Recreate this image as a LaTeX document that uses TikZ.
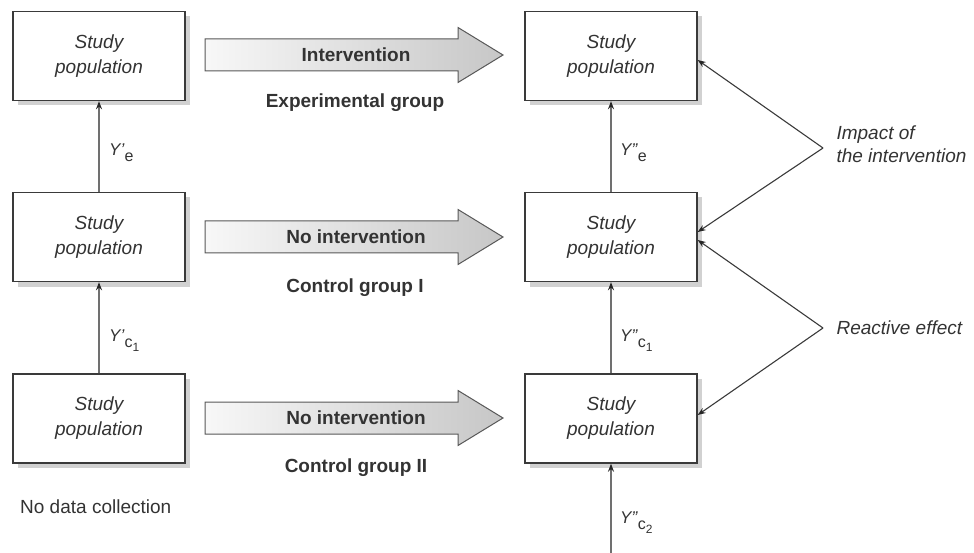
\documentclass[tikz,border=0pt]{standalone}
\usepackage{fontspec}
\setmainfont{Liberation Sans}
\usetikzlibrary{arrows.meta,calc,shadows}
\definecolor{txt}{HTML}{333333}
\definecolor{boxc}{HTML}{3A3A3A}
\definecolor{vline}{HTML}{707070}
\newcommand{\subl}[1]{\raisebox{-6pt}{\fontsize{16}{16}\selectfont #1}}
\newcommand{\subc}[1]{\raisebox{-6pt}{\fontsize{16}{16}\selectfont c\raisebox{-4pt}{\fontsize{12}{12}\selectfont #1}}}
\begin{document}
\begin{tikzpicture}[x=1pt,y=-1pt,
  box/.style={draw=boxc, line width=1.4pt, fill=white, minimum width=172pt, minimum height=89pt,
    inner sep=0pt, align=center, font=\fontsize{19}{25}\selectfont\itshape, text=txt,
    drop shadow={shadow xshift=5pt, shadow yshift=-5pt, fill=black!18, opacity=1}},
  blockarrow/.style={draw=boxc!85, line width=1pt, left color=black!3, right color=black!22},
  boldlbl/.style={font=\fontsize{19}{23}\selectfont\bfseries, text=txt},
  plainlbl/.style={font=\fontsize{19}{23}\selectfont, text=txt},
  itlbl/.style={font=\fontsize{19}{23}\selectfont\itshape, text=txt, align=left, anchor=west},
  ylbl/.style={font=\fontsize{17}{20}\selectfont, text=txt, anchor=west, inner sep=0pt},
  varrow/.style={draw=vline, line width=1.6pt, -{Stealth[length=8pt,width=6pt,color=black!85]}},
  darrow/.style={draw=boxc, line width=1.1pt, -{Stealth[length=8pt,width=6pt,color=black!85]}}
]
\useasboundingbox (0,0) rectangle (974,553);

% boxes
\node[box] (L1) at (99,56) {Study\\population};
\node[box] (L2) at (99,237) {Study\\population};
\node[box] (L3) at (99,418.5) {Study\\population};
\node[box] (R1) at (611,56) {Study\\population};
\node[box] (R2) at (611,237) {Study\\population};
\node[box] (R3) at (611,418.5) {Study\\population};

% block arrows
\foreach \y in {55,237,418}{
  \shade[blockarrow] (205,\y-16) -- (458,\y-16) -- (458,\y-27.5) -- (503,\y)
     -- (458,\y+27.5) -- (458,\y+16) -- (205,\y+16) -- cycle;
}
\node[boldlbl] (a1) at (356,55) {Intervention};
\node[boldlbl] (a2) at (356,237) {No intervention};
\node[boldlbl] (a3) at (356,418) {No intervention};
\node[boldlbl] (g1) at (355,103) {Experimental group};
\node[boldlbl] (g2) at (355,288) {Control group I};
\node[boldlbl] (g3) at (356,468) {Control group II};
\node[plainlbl, anchor=west, inner sep=0pt] (nd) at (20,507) {No data collection};

% vertical arrows
\draw[varrow] (L2.north) -- (L1.south);
\draw[varrow] (L3.north) -- (L2.south);
\draw[varrow] (R2.north) -- (R1.south);
\draw[varrow] (R3.north) -- (R2.south);
\coordinate (bot) at (611,553);
\draw[varrow] (bot) -- (R3.south);

\node[ylbl] (y1) at (109,153) {\textit{Y'}\subl{e}};
\node[ylbl] (y2) at (109,341) {\textit{Y'}\subc{1}};
\node[ylbl] (y3) at (620,153) {\textit{Y''}\subl{e}};
\node[ylbl] (y4) at (620,341) {\textit{Y''}\subc{1}};
\node[ylbl] (y5) at (620,523) {\textit{Y''}\subc{2}};

% diagonal arrows
\coordinate (imp) at (823,148);
\coordinate (rea) at (823,328);
\draw[darrow] (imp) -- ([yshift=-4pt]R1.east);
\draw[darrow] (imp) -- ([yshift=5pt]R2.east);
\draw[darrow] (rea) -- ([yshift=-3pt]R2.east);
\draw[darrow] (rea) -- ([yshift=3.5pt]R3.east);
\node[itlbl] (impl) at (833,144) {Impact of\\the intervention};
\node[itlbl] (real) at (833,328) {Reactive effect};
\end{tikzpicture}
\end{document}
